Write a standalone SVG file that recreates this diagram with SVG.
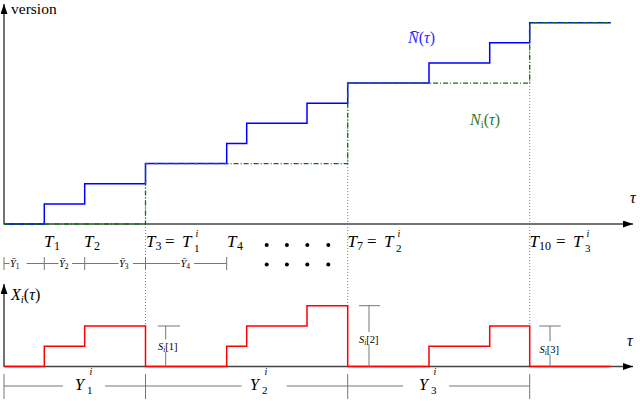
<svg xmlns="http://www.w3.org/2000/svg" width="640" height="401" viewBox="0 0 640 401" font-family="Liberation Serif, Times New Roman, serif">
<defs>
<marker id="arr" markerUnits="userSpaceOnUse" markerWidth="11" markerHeight="8" refX="10" refY="3.5" orient="auto">
<path d="M0,0 L10,3.5 L0,7 z" fill="#000"/>
</marker>
<style>
.ax{stroke:#444;stroke-width:1.5;fill:none}
.blue{stroke:#0000ff;stroke-width:1.5;fill:none}
.green{stroke:#107010;stroke-width:1.3;fill:none;stroke-dasharray:5 2 1 2}
.red{stroke:#ff0000;stroke-width:1.5;fill:none}
.dot{stroke:#777;stroke-width:0.9;fill:none;stroke-dasharray:1 2}
.gl{stroke:#777;stroke-width:1;fill:none}
.m{font-style:italic}
.up{font-style:normal}
</style>
</defs>
<g id="axes">
<line class="ax" x1="4" y1="224.5" x2="4" y2="4" marker-end="url(#arr)"/>
<line class="ax" x1="4" y1="224" x2="633" y2="224" marker-end="url(#arr)"/>
<line class="ax" x1="4" y1="367" x2="4" y2="284" marker-end="url(#arr)"/>
<line class="ax" x1="4" y1="366.5" x2="633" y2="366.5" marker-end="url(#arr)"/>
</g>
<g id="guides">
<line class="dot" x1="145.5" y1="164" x2="145.5" y2="326"/>
<line class="dot" x1="347.7" y1="83" x2="347.7" y2="306"/>
<line class="dot" x1="529.7" y1="23" x2="529.7" y2="326"/>
</g>
<g id="curves">
<path class="blue" d="M4,224 H44.3 V203.9 H84.7 V183.7 H145.5 V163.6 H226.7 V143.5 H246.7 V123.3 H307 V103.2 H347.7 V83.1 H429 V62.9 H489.7 V42.8 H529.7 V22.7 H610.7"/>
<path class="green" d="M4,224 H145.5 V163.6 H347.7 V83.1 H529.7 V22.7 H610.7"/>
<path class="red" d="M4,366.5 H44.3 V346.3 H84.7 V326 H145.5 V366.5 H226.7 V346.3 H246.7 V326 H307 V305.7 H347.7 V366.5 H429 V346.3 H489.7 V326 H529.7 V366.5 H610.7"/>
</g>
<g id="ybar-row">
<line class="gl" x1="4" y1="257" x2="4" y2="270"/>
<line class="gl" x1="44.3" y1="257" x2="44.3" y2="270"/>
<line class="gl" x1="84.7" y1="257" x2="84.7" y2="270"/>
<line class="gl" x1="145.5" y1="257" x2="145.5" y2="270"/>
<line class="gl" x1="226.7" y1="257" x2="226.7" y2="270"/>
<path class="gl" d="M4,263.5 H9.5 M26.5,263.5 H44.3 H58.5 M72,263.5 H84.7 H118.5 M133,263.5 H145.5 H180 M194,263.5 H226.7"/>
<text class="m" font-size="10.5" x="10" y="267">Ȳ<tspan class="up" font-size="7.5" dy="2">1</tspan></text>
<text class="m" font-size="10.5" x="59" y="267">Ȳ<tspan class="up" font-size="7.5" dy="2">2</tspan></text>
<text class="m" font-size="10.5" x="119" y="267">Ȳ<tspan class="up" font-size="7.5" dy="2">3</tspan></text>
<text class="m" font-size="10.5" x="180.5" y="267">Ȳ<tspan class="up" font-size="7.5" dy="2">4</tspan></text>
</g>
<g id="dots" fill="#000">
<circle cx="266.7" cy="245" r="2"/><circle cx="286.9" cy="245" r="2"/><circle cx="307.3" cy="245" r="2"/><circle cx="328.3" cy="245" r="2"/>
<circle cx="266.7" cy="264.5" r="2"/><circle cx="286.9" cy="264.5" r="2"/><circle cx="307.3" cy="264.5" r="2"/><circle cx="328.3" cy="264.5" r="2"/>
</g>
<g id="t-labels" font-size="17">
<text class="m" x="44" y="246.5">T<tspan class="up" font-size="12" x="54" y="250">1</tspan></text>
<text class="m" x="84" y="246.5">T<tspan class="up" font-size="12" x="94" y="250">2</tspan></text>
<text class="m" x="146" y="246.5">T<tspan class="up" font-size="12" x="155.5" y="250">3</tspan><tspan class="up" x="165" y="246.5">=</tspan><tspan x="182" y="246.5">T</tspan><tspan font-size="10" x="195.5" y="236.5">i</tspan><tspan class="up" font-size="11" x="194" y="251.5">1</tspan></text>
<text class="m" x="227" y="246.5">T<tspan class="up" font-size="12" x="237" y="250">4</tspan></text>
<text class="m" x="347.5" y="246.5">T<tspan class="up" font-size="12" x="357" y="250">7</tspan><tspan class="up" x="367" y="246.5">=</tspan><tspan x="384" y="246.5">T</tspan><tspan font-size="10" x="397.5" y="236.5">i</tspan><tspan class="up" font-size="11" x="396" y="251.5">2</tspan></text>
<text class="m" x="529.5" y="246.5">T<tspan class="up" font-size="12" x="539" y="250">10</tspan><tspan class="up" x="556" y="246.5">=</tspan><tspan x="573" y="246.5">T</tspan><tspan font-size="10" x="586.5" y="236.5">i</tspan><tspan class="up" font-size="11" x="585" y="251.5">3</tspan></text>
</g>
<g id="top-labels">
<text font-size="15.5" x="11" y="14">version</text>
<text class="m" font-size="16" x="630" y="203">τ</text>
<text class="m" font-size="16" x="408" y="43" fill="#2b2bff">N̄<tspan class="up">(</tspan>τ<tspan class="up">)</tspan></text>
<text class="m" font-size="16" x="470" y="125" fill="#2a7a2a">N<tspan class="up" font-size="11" dy="3">i</tspan><tspan class="up" dy="-3">(</tspan>τ<tspan class="up">)</tspan></text>
</g>
<g id="bottom-labels">
<text class="m" font-size="16" x="11" y="300">X<tspan font-size="11" dy="3">i</tspan><tspan class="up" dy="-3">(</tspan>τ<tspan class="up">)</tspan></text>
<text class="m" font-size="16" x="627" y="346">τ</text>
</g>
<g id="s-markers">
<path class="gl" d="M157.7,326 H180 M165.7,326 V339.5 M165.7,352 V366.5"/>
<text class="m" font-size="10.5" x="158" y="350">S<tspan font-size="7.5" dy="2">i</tspan><tspan class="up" dy="-2">[1]</tspan></text>
<path class="gl" d="M359,305.7 H380 M369,305.7 V332 M369,345 V366.5"/>
<text class="m" font-size="10.5" x="359" y="343">S<tspan font-size="7.5" dy="2">i</tspan><tspan class="up" dy="-2">[2]</tspan></text>
<path class="gl" d="M539.3,326 H560.7 M550,326 V341.5 M550,355 V366.5"/>
<text class="m" font-size="10.5" x="539.5" y="353">S<tspan font-size="7.5" dy="2">i</tspan><tspan class="up" dy="-2">[3]</tspan></text>
</g>
<g id="y-row">
<path class="gl" d="M4,374 V399 M145.5,374 V399 M347.7,374 V399 M529.7,374 V399"/>
<path class="gl" d="M4,386 H63 M105,386 H145.5 H241.5 M286.7,386 H347.7 H403 M449,386 H529.7"/>
<text class="m" font-size="16" x="75" y="390">Y<tspan class="up" font-size="11" x="87" y="394">1</tspan><tspan font-size="10" x="89.5" y="375">i</tspan></text>
<text class="m" font-size="16" x="250" y="390">Y<tspan class="up" font-size="11" x="262" y="394">2</tspan><tspan font-size="10" x="264.5" y="375">i</tspan></text>
<text class="m" font-size="16" x="419" y="390">Y<tspan class="up" font-size="11" x="431" y="394">3</tspan><tspan font-size="10" x="433.5" y="375">i</tspan></text>
</g>
</svg>
